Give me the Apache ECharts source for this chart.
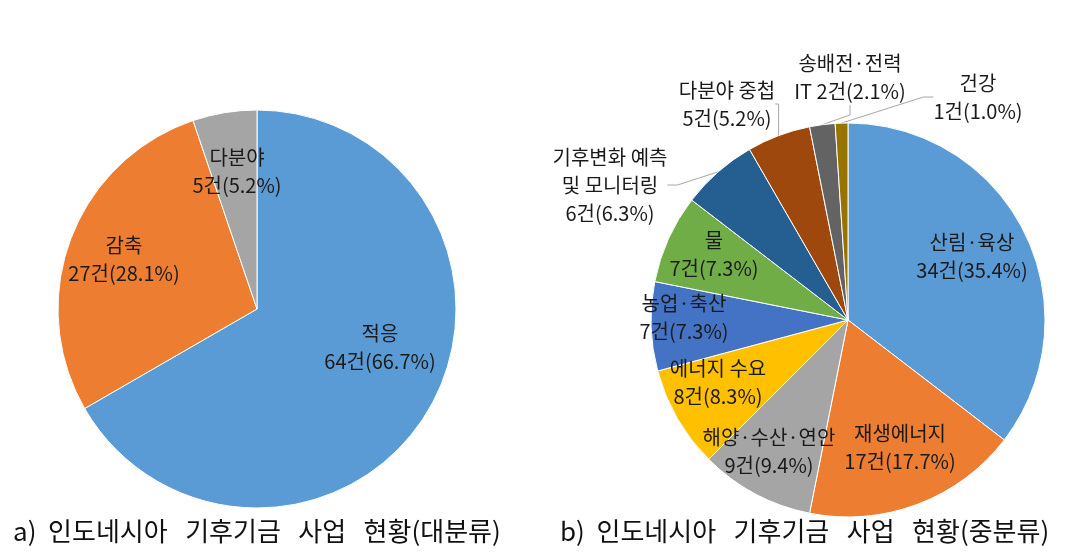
<!DOCTYPE html>
<html><head><meta charset="utf-8">
<script src="https://cdn.jsdelivr.net/npm/echarts@6/dist/echarts.min.js"></script>
<style>html,body{margin:0;padding:0;background:#fff}#c{width:1066px;height:552px}</style>
</head><body><div id="c"></div>
<script>
// ---- data ----
const majorNames = ['적응', '감축', '다분야'];
const majorCounts = [64, 27, 5];
const midNames = ['산림·육상', '재생에너지', '해양·수산·연안', '에너지 수요', '농업·축산', '물', '기후변화 예측\n및 모니터링', '다분야 중첩', '송배전·전력\nIT', '건강'];
const midCounts = [34, 17, 9, 8, 7, 7, 6, 5, 2, 1];
const captionA = 'a)  인도네시아   기후기금   사업   현황(대분류)';
const captionB = 'b)  인도네시아   기후기금   사업   현황(중분류)';

// ---- style / layout ----
const majorColors = ['#5B9BD5', '#ED7D31', '#A5A5A5'];
const midColors = ['#5B9BD5', '#ED7D31', '#A5A5A5', '#FFC000', '#4472C4', '#70AD47', '#255E91', '#9E480E', '#636363', '#997300'];
const leftCenter = [257, 309], leftR = 199;
const rightCenter = [848, 320], rightR = 197;
const leftLabelOffsets = [[123, 38], [-133, -50], [-20, -138]];
const rightLabelOffsets = [[124, -64], [52, 127], [-79, 131], [-130, 62], [-164, -3], [-134, -66], [-238, -135], [-121, -216], [2, -243], [130, -223]];
const outsideMid = [false, false, false, false, false, false, true, true, true, true];
const FONT = '"Noto Sans CJK KR", "Noto Sans", sans-serif';

function sum(a) { return a.reduce((s, v) => s + v, 0); }
function fmt(name, v, total) {
  const pct = (v / total * 100).toFixed(1);
  const sep = /IT$/.test(name) ? ' ' : '\n';
  return name + sep + v + '건(' + pct + '%)';
}

const majorTotal = sum(majorCounts), midTotal = sum(midCounts);

const labelBase = { color: '#1a1a1a', fontSize: 20, lineHeight: 28, fontFamily: FONT, align: 'center' };

const chart = echarts.init(document.getElementById('c'), null, { renderer: 'canvas' });
chart.setOption({
  backgroundColor: '#ffffff',
  animation: false,
  graphic: [
    { type: 'text', left: 13, top: 518, style: { text: captionA, font: '26px ' + FONT, fill: '#111' } },
    { type: 'text', left: 560, top: 518, style: { text: captionB, font: '26px ' + FONT, fill: '#111' } }
  ],
  series: [
    {
      type: 'pie', center: leftCenter, radius: leftR, startAngle: 90, clockwise: true,
      avoidLabelOverlap: false,
      itemStyle: { borderColor: '#ffffff', borderWidth: 1 },
      label: Object.assign({ show: true, position: 'inside',
        formatter: p => fmt(p.name, p.value, majorTotal) }, labelBase),
      labelLine: { show: false },
      labelLayout: p => {
        const o = leftLabelOffsets[p.dataIndex];
        return { x: leftCenter[0] + o[0], y: leftCenter[1] + o[1], align: 'center', verticalAlign: 'middle' };
      },
      data: majorNames.map((n, i) => ({ name: n, value: majorCounts[i], itemStyle: { color: majorColors[i] } }))
    },
    {
      type: 'pie', center: rightCenter, radius: rightR, startAngle: 90, clockwise: true,
      avoidLabelOverlap: false,
      itemStyle: { borderColor: '#ffffff', borderWidth: 1 },
      label: Object.assign({ show: true, position: 'inside',
        formatter: p => fmt(p.name, p.value, midTotal) }, labelBase),
      labelLine: { show: false },
      labelLayout: p => {
        const o = rightLabelOffsets[p.dataIndex];
        return { x: rightCenter[0] + o[0], y: rightCenter[1] + o[1], align: 'center', verticalAlign: 'middle' };
      },
      data: midNames.map((n, i) => {
        const d = { name: n, value: midCounts[i], itemStyle: { color: midColors[i] } };
        if (outsideMid[i]) {
          d.label = { position: 'outside' };
          d.labelLine = { show: true, length: 10, length2: 10, lineStyle: { color: '#a6a6a6', width: 1 } };
        }
        return d;
      })
    }
  ]
});
</script>
</body></html>
